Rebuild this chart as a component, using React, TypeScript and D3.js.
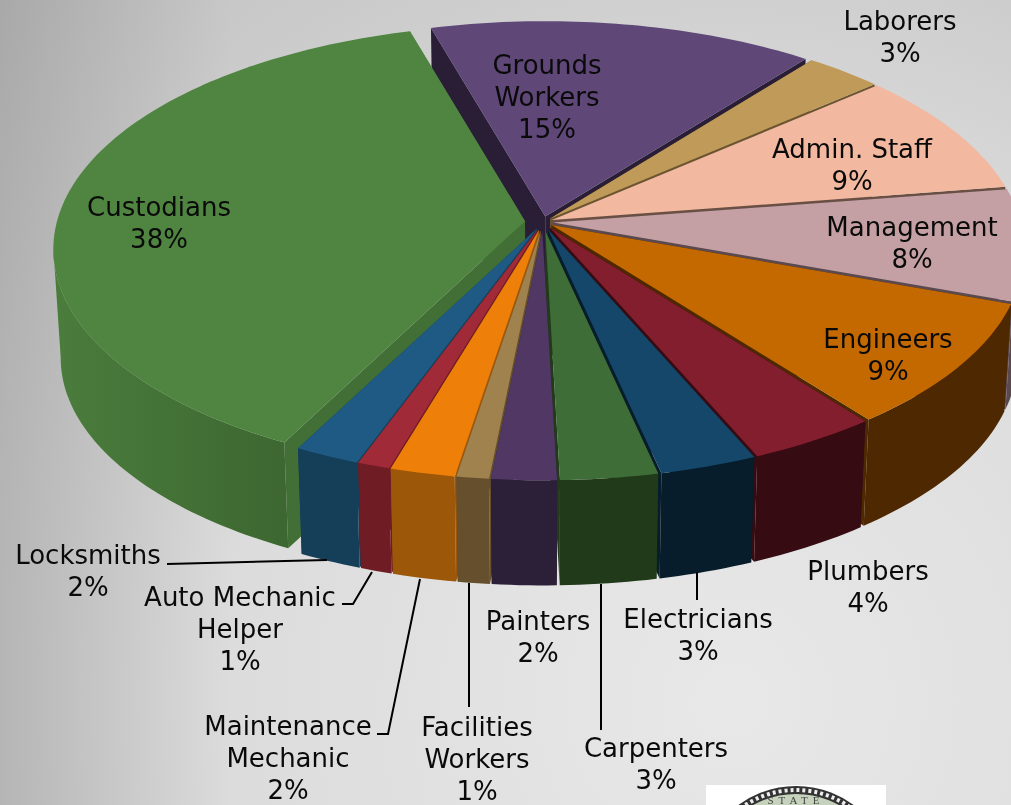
import React from "react";
import * as d3 from "d3";

const categories = ["Grounds Workers","Laborers","Admin. Staff","Management","Engineers","Plumbers","Electricians","Carpenters","Painters","Facilities Workers","Maintenance Mechanic","Auto Mechanic Helper","Locksmiths","Custodians"];
const shares = [15,3,9,8,9,4,3,3,2,1,2,1,2,38];
const topColors = ["#5F4778","#C09A58","#F3B8A0","#C49FA3","#C46800","#821E2D","#14476A","#3F6D37","#513764","#A0824E","#EE7F08","#A02A38","#1E5A84","#4F8540"];
const wallColors = ["#2A1E36","#6B5530","#6A5044","#5A4A50","#4E2800","#370B12","#071D2B","#203A1A","#2C1F38","#654F2C","#9D5708","#701C25","#153F58","#426F35"];
const explode = [6,8,9,10,9,9,9,9,9,9,9,9,9,18];
const grow = [1,1,1,1,1,1,1,1,1,1,1,1,1,1.018];

const labelLines = [
  ["Grounds","Workers","15%"],["Laborers","3%"],["Admin. Staff","9%"],["Management","8%"],["Engineers","9%"],["Plumbers","4%"],["Electricians","3%"],["Carpenters","3%"],["Painters","2%"],["Facilities","Workers","1%"],["Maintenance","Mechanic","2%"],["Auto Mechanic","Helper","1%"],["Locksmiths","2%"],["Custodians","38%"],
];
const labelX = [547,900,852,912,888,868,698,656,538,477,288,240,88,159];
const labelY = [74,30,158,236,348,580,628,757,630,736,735,606,564,216];

const leaders: [number, number][][] = [
  [[167,564],[327,560]],
  [[342,604],[353,604],[372,572]],
  [[377,734],[388,734],[420,579]],
  [[469,583],[469,707]],
  [[601,584],[601,730]],
  [[697,572],[697,600]],
];

const W = 1011, H = 805;
const CX = 543, CY = 222, RX = 478, RY = 226, PERSP = 0.125;
const DEPTH = 109, SHRINK = 0.985;
const START = (-16 * Math.PI) / 180;

const project = (a: number): [number, number] => {
  const X = Math.sin(a), Y = -Math.cos(a);
  const f = 1 - PERSP * Y;
  return [(RX * X) / f, (RY * Y) / f];
};
const down = (p: [number, number]): [number, number] => [
  CX + SHRINK * (p[0] - CX),
  CY + SHRINK * (p[1] - CY) + DEPTH,
];
const line = d3.line<[number, number]>().x((d) => d[0]).y((d) => d[1]);

const pie = d3.pie<number>().sort(null).startAngle(START).endAngle(START + 2 * Math.PI);

const slices = pie(shares).map((s, i) => {
  const n = Math.max(4, Math.ceil((s.endAngle - s.startAngle) / 0.02));
  const mid = project((s.startAngle + s.endAngle) / 2);
  const len = Math.hypot(mid[0], mid[1]);
  const tip: [number, number] = [CX + (mid[0] / len) * explode[i], CY + (mid[1] / len) * explode[i]];
  const scale = (1 - explode[i] / len) * grow[i];
  const rim = d3.range(n + 1).map((k): [number, number] => {
    const [x, y] = project(s.startAngle + ((s.endAngle - s.startAngle) * k) / n);
    return [tip[0] + x * scale, tip[1] + y * scale];
  });
  // the outer wall faces the viewer only where the rim runs right-to-left
  const front = rim.filter((p, k) =>
    (k < n && rim[k + 1][0] < p[0]) || (k > 0 && p[0] < rim[k - 1][0])
  );
  const wall = front.length > 1 ? line([...front, ...front.map(down).reverse()])! + "Z" : null;
  return {
    i, wall, midY: mid[1],
    top: line([tip, ...rim])! + "Z",
    cutA: line([tip, rim[0], down(rim[0]), down(tip)])! + "Z",
    cutB: line([tip, rim[n], down(rim[n]), down(tip)])! + "Z",
  };
});
const ordered = slices.slice().sort((a, b) => a.midY - b.midY);

export default function App() {
  return (
    <svg width={W} height={H} viewBox={`0 0 ${W} ${H}`} style={{ position: "fixed", left: 0, top: 0, display: "block" }}>
      <defs>
        <radialGradient id="bg" gradientUnits="userSpaceOnUse" cx={730} cy={700} r={1000}>
          <stop offset="0" stopColor="#e8e8e8" />
          <stop offset="0.5" stopColor="#dcdcdc" />
          <stop offset="0.75" stopColor="#cdcdcd" />
          <stop offset="1" stopColor="#c0c0c0" />
        </radialGradient>
        <linearGradient id="leftShade" x1={0} x2={1} y1={0} y2={0}>
          <stop offset="0" stopColor="#000" stopOpacity={0.12} />
          <stop offset="1" stopColor="#000" stopOpacity={0} />
        </linearGradient>
        <linearGradient id="custWall" gradientUnits="userSpaceOnUse" x1={60} x2={300} y1={0} y2={0}>
          <stop offset="0" stopColor="#4A7C3C" />
          <stop offset="1" stopColor="#3C6630" />
        </linearGradient>
        <clipPath id="sealClip"><rect x={706} y={785} width={180} height={20} /></clipPath>
      </defs>
      <rect width={W} height={H} fill="url(#bg)" />
      <rect width={230} height={H} fill="url(#leftShade)" />
      {ordered.map((s) => (
        <g key={categories[s.i]}>
          <path d={s.cutA} fill={wallColors[s.i]} />
          <path d={s.cutB} fill={wallColors[s.i]} />
          {s.wall && <path d={s.wall} fill={s.i === 13 ? "url(#custWall)" : wallColors[s.i]} />}
          <path d={s.top} fill={topColors[s.i]} />
        </g>
      ))}
      {leaders.map((l, i) => (
        <path key={i} d={line(l)!} fill="none" stroke="#000" strokeWidth={2} />
      ))}
      <g fontFamily="'DejaVu Sans', Verdana, sans-serif" fontSize={26} fill="#0a0a0a" textAnchor="middle">
        {labelLines.map((lines, i) => (
          <text key={i} x={labelX[i]} y={labelY[i]}>
            {lines.map((t, k) => (
              <tspan key={k} x={labelX[i]} y={labelY[i] + k * 32}>{t}</tspan>
            ))}
          </text>
        ))}
      </g>
      <rect x={706} y={785} width={180} height={20} fill="#fff" />
      <g clipPath="url(#sealClip)">
        <circle cx={796} cy={883} r={93} fill="#c6d2bc" stroke="#333" strokeWidth={8} />
        <circle cx={796} cy={883} r={93} fill="none" stroke="#eee" strokeWidth={4} strokeDasharray="3 3" />
        <text x={796} y={804} textAnchor="middle" fontFamily="'Liberation Serif', serif" fontSize={11} letterSpacing={5} fill="#444">STATE</text>
      </g>
    </svg>
  );
}
